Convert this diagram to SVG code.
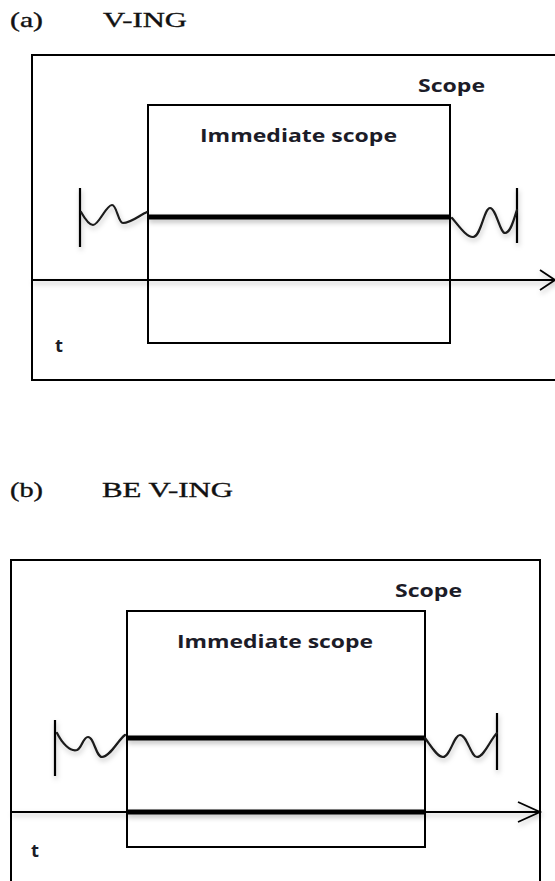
<svg xmlns="http://www.w3.org/2000/svg" width="555" height="881" viewBox="0 0 555 881">
<style>
.frame{fill:none;stroke:#000;stroke-width:2}
.thin{fill:none;stroke:#000;stroke-width:1.8}
.bar{fill:none;stroke:#000;stroke-width:2.2}
.thick{fill:none;stroke:#000;stroke-width:5}
.wave{fill:none;stroke:#1a1a1a;stroke-width:2.2;stroke-linecap:round;stroke-linejoin:round}
.lbl{font-family:"Open Sans","Liberation Sans",sans-serif;font-weight:bold;font-size:18px;fill:#1c1c28}
.head{font-family:"Liberation Serif","Times New Roman",serif;font-size:21px;fill:#111;stroke:#111;stroke-width:0.35}
</style>
<defs>
<filter id="sh" x="-10%" y="-50%" width="120%" height="250%">
<feDropShadow dx="1" dy="3" stdDeviation="2.5" flood-color="#000" flood-opacity="0.25"/>
</filter>
</defs>
<rect width="555" height="881" fill="#fff"/>

<!-- Panel (a) -->
<g id="heading-a">
<text class="head" x="10" y="27" textLength="33" lengthAdjust="spacingAndGlyphs">(a)</text>
<text class="head" x="103" y="27" textLength="84" lengthAdjust="spacingAndGlyphs">V-ING</text>
</g>
<g id="scope-a">
<path class="frame" d="M560,55 H32 V380 H560"/>
<text class="lbl" x="418" y="92" textLength="67" lengthAdjust="spacingAndGlyphs">Scope</text>
</g>
<g id="immediate-a">
<rect class="frame" x="148" y="105" width="302" height="238"/>
<text class="lbl" x="200" y="142" textLength="197" lengthAdjust="spacingAndGlyphs">Immediate scope</text>
</g>
<g id="t-a">
<text class="lbl" x="55" y="352" textLength="8" lengthAdjust="spacingAndGlyphs">t</text>
</g>
<g id="connectors-a" filter="url(#sh)">
<line class="thin" x1="32" y1="280" x2="555" y2="280"/>
<path class="thin" d="M540,270 L555,280 L540,290"/>
<line class="thick" x1="148" y1="217" x2="450" y2="217"/>
<line class="bar" x1="80" y1="188" x2="80" y2="247"/>
<path class="wave" d="M81,212 C85,219 89,225 93,225 C99,225 106,205 112,205 C117,205 118,223 123,223 C131,223 140,215 147,212"/>
<line class="bar" x1="517" y1="188" x2="517" y2="243"/>
<path class="wave" d="M452,218 C459,226 466,237 473,237 C481,237 484,208 490,208 C496,208 500,233 505,233 C511,233 514,218 517,210"/>
</g>

<!-- Panel (b) -->
<g id="heading-b">
<text class="head" x="10" y="497" textLength="33" lengthAdjust="spacingAndGlyphs">(b)</text>
<text class="head" x="102" y="497" textLength="131" lengthAdjust="spacingAndGlyphs">BE V-ING</text>
</g>
<g id="scope-b">
<path class="frame" d="M11,890 V560 H540 V890"/>
<text class="lbl" x="395" y="597" textLength="67" lengthAdjust="spacingAndGlyphs">Scope</text>
</g>
<g id="immediate-b">
<rect class="frame" x="127" y="611" width="298" height="236"/>
<text class="lbl" x="177" y="648" textLength="196" lengthAdjust="spacingAndGlyphs">Immediate scope</text>
</g>
<g id="t-b">
<text class="lbl" x="31" y="857" textLength="8" lengthAdjust="spacingAndGlyphs">t</text>
</g>
<g id="connectors-b" filter="url(#sh)">
<line class="thin" x1="11" y1="812" x2="540" y2="812"/>
<path class="thin" d="M518,802 L540,812 L518,822"/>
<line class="thick" x1="127" y1="738" x2="425" y2="738"/>
<line class="thick" x1="127" y1="812" x2="425" y2="812"/>
<line class="bar" x1="55" y1="720" x2="55" y2="776"/>
<path class="wave" d="M57,733 C62,743 70,752 77,750 C82,748 83,737 88,737 C94,737 96,757 102,757 C110,757 118,740 125,735"/>
<line class="bar" x1="497" y1="713" x2="497" y2="770"/>
<path class="wave" d="M425,738 C431,746 437,757 443,757 C450,757 454,735 460,735 C467,735 471,757 477,757 C484,757 490,740 497,733"/>
</g>
</svg>
